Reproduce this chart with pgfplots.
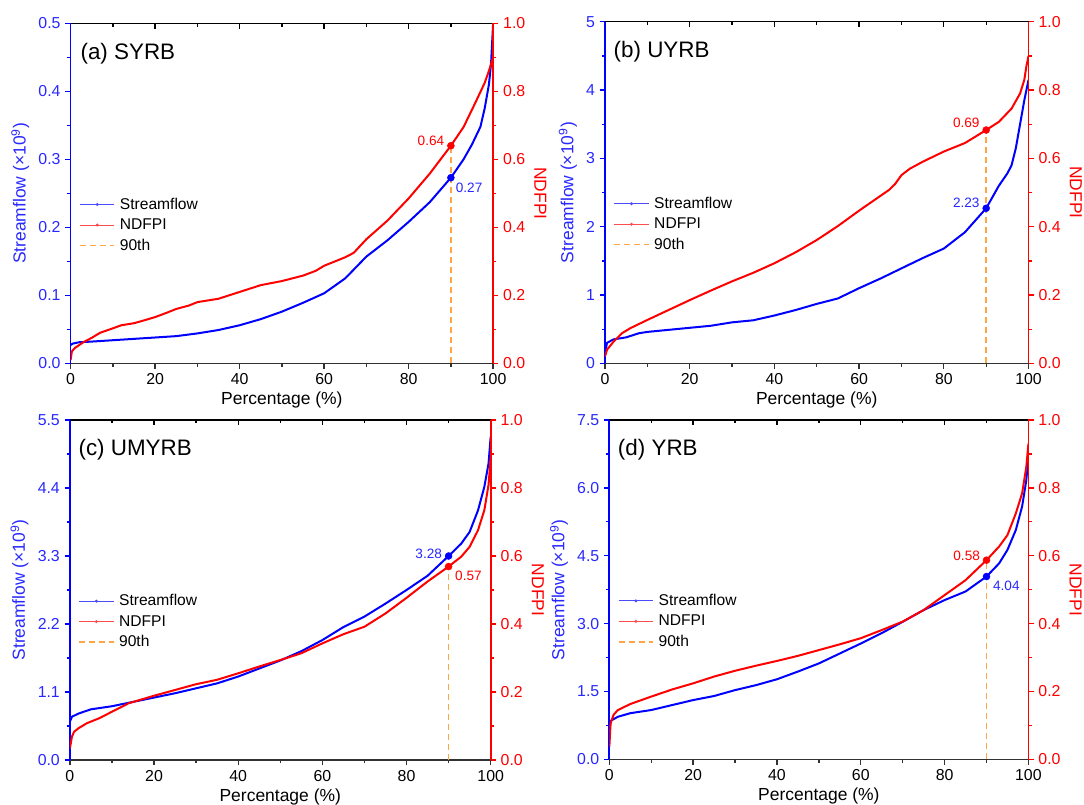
\documentclass[border=0pt]{standalone}
\usepackage{fontspec}
\setmainfont{Liberation Sans}
\usepackage{pgfplots}
\pgfplotsset{compat=1.18}
\definecolor{axgray}{RGB}{50,50,50}
\definecolor{tblue}{RGB}{40,40,255}
\definecolor{oran}{RGB}{255,165,70}
\newcommand\ticksize{\fontsize{11.9}{14}\selectfont}
\newcommand\labsize{\fontsize{13.1}{15}\selectfont}
\newcommand\legsize{\fontsize{11.7}{13}\selectfont}
\newcommand\annsize{\fontsize{10.2}{11}\selectfont}
\newcommand\titsize{\fontsize{16.8}{19}\selectfont}
\pgfplotsset{
 every axis/.append style={scale only axis, xmin=0, xmax=100, anchor=north west,
   label style={font=\labsize},
   /pgf/number format/assume math mode=true,
   major tick length=4pt, minor tick length=2.4pt},
 every tick label/.append style={font=\ticksize},
 leftax/.style={axis x line*=bottom, axis y line*=left,
   x axis line style={draw=axgray, line width=1.1pt, -},
   y axis line style={draw=blue, line width=1.3pt, -},
   xtick={0,20,...,100}, minor x tick num=1, minor y tick num=1,
   tick align=outside,
   x tick style={axgray, line width=1pt}, y tick style={blue, line width=1pt},
   xticklabel style={font=\ticksize},
   yticklabel style={text=tblue, font=\ticksize},
   xlabel={Percentage (\%)}, ylabel={Streamflow (×10\textsuperscript{9})},
   ylabel style={text=tblue}, xlabel style={yshift=1.5pt},
   legend style={draw=none, fill=none, at={(0.01,0.50)}, anchor=north west,
     font=\legsize, row sep=3.2pt, nodes={inner ysep=1.2pt, inner xsep=3.5pt}},
   legend cell align=left,
   legend image code/.code={\draw[#1] (0pt,0pt) -- (26pt,0pt); \fill[#1] (13pt,0pt) circle (0.8pt);}},
 rightax/.style={axis x line=none, axis y line*=right,
   y axis line style={draw=red, line width=1.3pt, -},
   ymin=0, ymax=1, ytick={0,0.2,...,1}, minor y tick num=1, tick align=outside,
   y tick style={red, line width=1pt}, yticklabel style={text=red, font=\ticksize},
   y tick label style={/pgf/number format/fixed, /pgf/number format/fixed zerofill, /pgf/number format/precision=1},
   ylabel={NDFPI}, ylabel style={text=red, rotate=180}},
 topax/.style={axis x line*=top, axis y line=none, ymin=0, ymax=1, tick align=inside,
   xtick={0,20,...,100}, minor x tick num=1, xticklabels={},
   x axis line style={draw=black, line width=1.1pt, -}, x tick style={black, line width=1pt}},
 bl/.style={blue, line width=1.5pt, line join=round},
 rl/.style={red, line width=1.5pt, line join=round},
 dl/.style={oran, line width=1.1pt, dash pattern=on 4.5pt off 3pt},
}
\newcommand\legs{%
 \addlegendimage{blue!70, line width=0.6pt}
 \addlegendimage{red!70, line width=0.6pt}
 \addlegendimage{oran, line width=1.1pt, legend image code/.code={\draw[oran, line width=1.1pt, dash pattern=on 4.5pt off 3pt] (0pt,0pt) -- (26pt,0pt);}}
 \legend{Streamflow,NDFPI,90th}}
\begin{document}
\begin{tikzpicture}
\useasboundingbox (0,0) rectangle (813pt,-603pt);
% ---------------- (a)
\begin{axis}[topax, at={(52.95pt,-17.5pt)}, width=316.9pt, height=255pt]
\end{axis}
\begin{axis}[leftax, at={(52.95pt,-17.5pt)}, width=316.9pt, height=255pt,
  ymin=0, ymax=0.5, ytick={0,0.1,0.2,0.3,0.4,0.5},
  y tick label style={/pgf/number format/fixed, /pgf/number format/fixed zerofill, /pgf/number format/precision=1}]
\legs
\addplot[dl, forget plot] coordinates {(90,0) (90,0.32)};
\addplot[bl, forget plot] coordinates {(0,0.027) (0.5,0.029) (2,0.031) (5,0.032) (10,0.034) (15,0.036) (20,0.038) (25,0.040) (30,0.044) (35,0.049) (40,0.056) (45,0.065) (50,0.076) (55,0.089) (60,0.103) (65,0.125) (70,0.157) (75,0.181) (80,0.208) (85,0.237) (90,0.273) (93,0.300) (95,0.322) (97,0.348) (98,0.375) (99,0.410) (99.5,0.44) (100,0.5)};
\addplot[blue, only marks, mark=*, mark size=2.6pt, forget plot] coordinates {(90,0.273)};
\node[font=\annsize, text=tblue, anchor=north west, inner sep=1pt] at (axis cs:90.8,0.268) {0.27};
\node[font=\titsize, anchor=west, inner sep=0pt] at (rel axis cs:0.023,0.912) {(a) SYRB};
\end{axis}
\begin{axis}[rightax, at={(52.95pt,-17.5pt)}, width=316.9pt, height=255pt]
\addplot[rl] coordinates {(0,0.01) (0.3,0.035) (1,0.045) (3,0.062) (5,0.075) (7,0.090) (10,0.103) (12,0.112) (15,0.118) (17,0.125) (20,0.136) (23,0.150) (25,0.160) (28,0.170) (30,0.180) (35,0.190) (40,0.210) (45,0.230) (50,0.242) (55,0.258) (58,0.272) (60,0.287) (65,0.312) (67,0.325) (70,0.365) (75,0.420) (80,0.485) (85,0.558) (90,0.640) (93,0.695) (96,0.772) (98,0.825) (99,0.86) (100,0.90)};
\addplot[red, only marks, mark=*, mark size=2.6pt] coordinates {(90,0.64)};
\node[font=\annsize, text=red, anchor=east, inner sep=1pt] at (axis cs:88.8,0.655) {0.64};
\end{axis}
% ---------------- (b)
\begin{axis}[topax, at={(453.7pt,-16.3pt)}, width=317.7pt, height=256.2pt]
\end{axis}
\begin{axis}[leftax, at={(453.7pt,-16.3pt)}, width=317.7pt, height=256.2pt,
  ymin=0, ymax=5, ytick={0,1,2,3,4,5}]
\legs
\addplot[dl, forget plot] coordinates {(90,0) (90,3.415)};
\addplot[bl, forget plot] coordinates {(0,0.15) (0.5,0.30) (2,0.35) (5,0.38) (8,0.44) (10,0.46) (15,0.49) (20,0.52) (25,0.55) (30,0.60) (35,0.63) (40,0.70) (45,0.78) (50,0.87) (55,0.95) (60,1.10) (65,1.24) (70,1.39) (75,1.54) (80,1.68) (85,1.92) (90,2.27) (93,2.60) (95,2.78) (96,2.90) (97,3.15) (98,3.50) (99,3.85) (100,4.15)};
\addplot[blue, only marks, mark=*, mark size=2.6pt, forget plot] coordinates {(90,2.27)};
\node[font=\annsize, text=tblue, anchor=east, inner sep=1pt] at (axis cs:88.8,2.35) {2.23};
\node[font=\titsize, anchor=west, inner sep=0pt] at (rel axis cs:0.02,0.912) {(b) UYRB};
\end{axis}
\begin{axis}[rightax, at={(453.7pt,-16.3pt)}, width=317.7pt, height=256.2pt]
\addplot[rl] coordinates {(0,0.02) (0.5,0.04) (2,0.063) (4,0.088) (6,0.103) (10,0.127) (15,0.156) (20,0.185) (25,0.213) (30,0.240) (35,0.265) (40,0.293) (45,0.325) (50,0.361) (55,0.402) (60,0.447) (65,0.490) (67,0.507) (68.5,0.525) (70,0.551) (72,0.570) (75,0.590) (80,0.620) (85,0.645) (90,0.683) (93,0.707) (96,0.746) (98,0.79) (99,0.83) (99.5,0.87) (100,0.90)};
\addplot[red, only marks, mark=*, mark size=2.6pt] coordinates {(90,0.683)};
\node[font=\annsize, text=red, anchor=east, inner sep=1pt] at (axis cs:88.8,0.705) {0.69};
\end{axis}
% ---------------- (c)
\begin{axis}[topax, at={(52.4pt,-315pt)}, width=315.6pt, height=255pt]
\end{axis}
\begin{axis}[leftax, at={(52.4pt,-315pt)}, width=315.6pt, height=255pt,
  ymin=0, ymax=5.5, ytick={0,1.1,2.2,3.3,4.4,5.5},
  y tick label style={/pgf/number format/fixed, /pgf/number format/fixed zerofill, /pgf/number format/precision=1}]
\legs
\addplot[dl, forget plot] coordinates {(90,0) (90,3.30)};
\addplot[bl, forget plot] coordinates {(0,0.62) (0.5,0.70) (2,0.75) (5,0.82) (8,0.85) (10,0.87) (15,0.94) (20,1.01) (25,1.08) (30,1.16) (35,1.24) (40,1.35) (45,1.48) (50,1.61) (55,1.76) (60,1.94) (65,2.15) (70,2.32) (75,2.53) (80,2.75) (85,2.98) (90,3.30) (93,3.50) (95,3.69) (97,4.04) (98.5,4.42) (99.5,4.80) (100,5.23)};
\addplot[blue, only marks, mark=*, mark size=2.6pt, forget plot] coordinates {(90,3.30)};
\node[font=\annsize, text=tblue, anchor=east, inner sep=1pt] at (axis cs:88.8,3.34) {3.28};
\node[font=\titsize, anchor=west, inner sep=0pt] at (rel axis cs:0.02,0.912) {(c) UMYRB};
\end{axis}
\begin{axis}[rightax, at={(52.4pt,-315pt)}, width=315.6pt, height=255pt]
\addplot[rl] coordinates {(0,0.034) (0.5,0.069) (1,0.083) (2,0.093) (4,0.108) (7,0.123) (10,0.142) (14,0.167) (20,0.189) (25,0.206) (30,0.223) (35,0.236) (40,0.255) (45,0.275) (50,0.294) (55,0.314) (60,0.343) (65,0.370) (70,0.392) (75,0.431) (80,0.477) (85,0.525) (90,0.569) (93,0.598) (95,0.627) (97,0.676) (98.5,0.735) (99.5,0.81) (100,0.89)};
\addplot[red, only marks, mark=*, mark size=2.6pt] coordinates {(90,0.569)};
\node[font=\annsize, text=red, anchor=north west, inner sep=1pt] at (axis cs:91.2,0.56) {0.57};
\end{axis}
% ---------------- (d)
\begin{axis}[topax, at={(457pt,-315pt)}, width=314.3pt, height=254.5pt]
\end{axis}
\begin{axis}[leftax, at={(457pt,-315pt)}, width=314.3pt, height=254.5pt,
  ymin=0, ymax=7.5, ytick={0,1.5,3,4.5,6,7.5},
  y tick label style={/pgf/number format/fixed, /pgf/number format/fixed zerofill, /pgf/number format/precision=1}]
\legs
\addplot[dl, forget plot] coordinates {(90,0) (90,4.40)};
\addplot[bl, forget plot] coordinates {(0,0.60) (0.3,0.85) (2,0.94) (5,1.02) (10,1.09) (15,1.20) (20,1.31) (25,1.40) (30,1.53) (35,1.64) (40,1.77) (45,1.94) (50,2.12) (55,2.34) (60,2.56) (65,2.79) (70,3.04) (75,3.30) (80,3.52) (85,3.71) (90,4.04) (93,4.33) (95,4.63) (97,5.07) (98.5,5.59) (99.5,6.17) (100,6.69)};
\addplot[blue, only marks, mark=*, mark size=2.6pt, forget plot] coordinates {(90,4.04)};
\node[font=\annsize, text=tblue, anchor=north west, inner sep=1pt] at (axis cs:91.2,3.98) {4.04};
\node[font=\titsize, anchor=west, inner sep=0pt] at (rel axis cs:0.02,0.912) {(d) YRB};
\end{axis}
\begin{axis}[rightax, at={(457pt,-315pt)}, width=314.3pt, height=254.5pt]
\addplot[rl] coordinates {(0,0.037) (0.3,0.106) (1,0.131) (2,0.145) (5,0.163) (10,0.185) (15,0.206) (20,0.224) (25,0.244) (30,0.261) (35,0.276) (40,0.290) (45,0.305) (50,0.322) (55,0.339) (60,0.357) (65,0.381) (70,0.406) (75,0.440) (80,0.484) (85,0.528) (90,0.587) (93,0.627) (95,0.661) (97,0.725) (98.5,0.784) (99.5,0.862) (100,0.93)};
\addplot[red, only marks, mark=*, mark size=2.6pt] coordinates {(90,0.587)};
\node[font=\annsize, text=red, anchor=east, inner sep=1pt] at (axis cs:88.8,0.60) {0.58};
\end{axis}
\end{tikzpicture}
\end{document}
